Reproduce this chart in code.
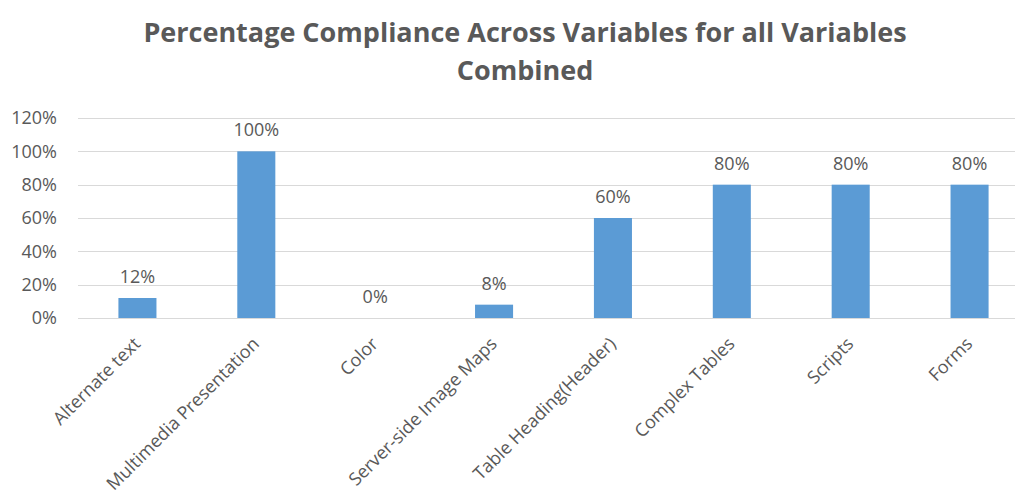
<!DOCTYPE html>
<html>
<head>
<meta charset="utf-8">
<script src="https://cdn.jsdelivr.net/npm/d3@7"></script>
<style>
  body { margin: 0; background: #fff; }
  svg text { font-family: "Open Sans", sans-serif; fill: #595959; }
</style>
</head>
<body>
<div id="chart"></div>
<script>
const categories = [
  "Alternate text",
  "Multimedia Presentation",
  "Color",
  "Server-side Image Maps",
  "Table Heading(Header)",
  "Complex Tables",
  "Scripts",
  "Forms",
];
const values = [0.12, 1.0, 0, 0.08, 0.6, 0.8, 0.8, 0.8];
const yTicks = [0, 0.2, 0.4, 0.6, 0.8, 1.0, 1.2];
const titleLines = [
  "Percentage Compliance Across Variables for all Variables",
  "Combined",
];

const width = 1015;
const height = 491;
const margin = { top: 118, right: 0, bottom: 173, left: 78 };

const svg = d3
  .select("#chart")
  .append("svg")
  .attr("width", width)
  .attr("height", height);

const x = d3
  .scaleBand()
  .domain(categories)
  .range([margin.left, margin.left + 951])
  .paddingInner(0.68)
  .paddingOuter(0.34);

const y = d3
  .scaleLinear()
  .domain([0, 1.2])
  .range([height - margin.bottom, margin.top]);

const fmt = d3.format(".0%");

// gridlines
svg
  .append("g")
  .selectAll("line")
  .data(yTicks)
  .join("line")
  .attr("x1", margin.left)
  .attr("x2", width)
  .attr("y1", (d) => Math.round(y(d)) + 0.5)
  .attr("y2", (d) => Math.round(y(d)) + 0.5)
  .attr("stroke", "#d9d9d9")
  .attr("stroke-width", 1);

// y axis labels
svg
  .append("g")
  .selectAll("text")
  .data(yTicks)
  .join("text")
  .attr("x", 57)
  .attr("y", (d) => y(d))
  .attr("dy", "0.35em")
  .attr("text-anchor", "end")
  .attr("font-size", 18)
  .text(fmt);

// bars
svg
  .append("g")
  .selectAll("rect")
  .data(values)
  .join("rect")
  .attr("x", (d, i) => x(categories[i]))
  .attr("y", (d) => y(d))
  .attr("width", x.bandwidth())
  .attr("height", (d) => y(0) - y(d))
  .attr("fill", "#5b9bd5");

// data labels
svg
  .append("g")
  .selectAll("text")
  .data(values)
  .join("text")
  .attr("x", (d, i) => x(categories[i]) + x.bandwidth() / 2)
  .attr("y", (d) => y(d) - 15)
  .attr("text-anchor", "middle")
  .attr("font-size", 18)
  .text(fmt);

// x labels
svg
  .append("g")
  .selectAll("text")
  .data(categories)
  .join("text")
  .attr("text-anchor", "end")
  .attr("font-size", 18)
  .attr(
    "transform",
    (d) => `translate(${x(d) + x.bandwidth() / 2 + 4},${y(0) + 27})rotate(-45)`
  )
  .text((d) => d);

// title
svg
  .append("g")
  .selectAll("text")
  .data(titleLines)
  .join("text")
  .attr("x", 525)
  .attr("y", (d, i) => 42 + i * 38)
  .attr("text-anchor", "middle")
  .attr("font-size", 27)
  .attr("font-weight", 700)
  .text((d) => d);
</script>
</body>
</html>
